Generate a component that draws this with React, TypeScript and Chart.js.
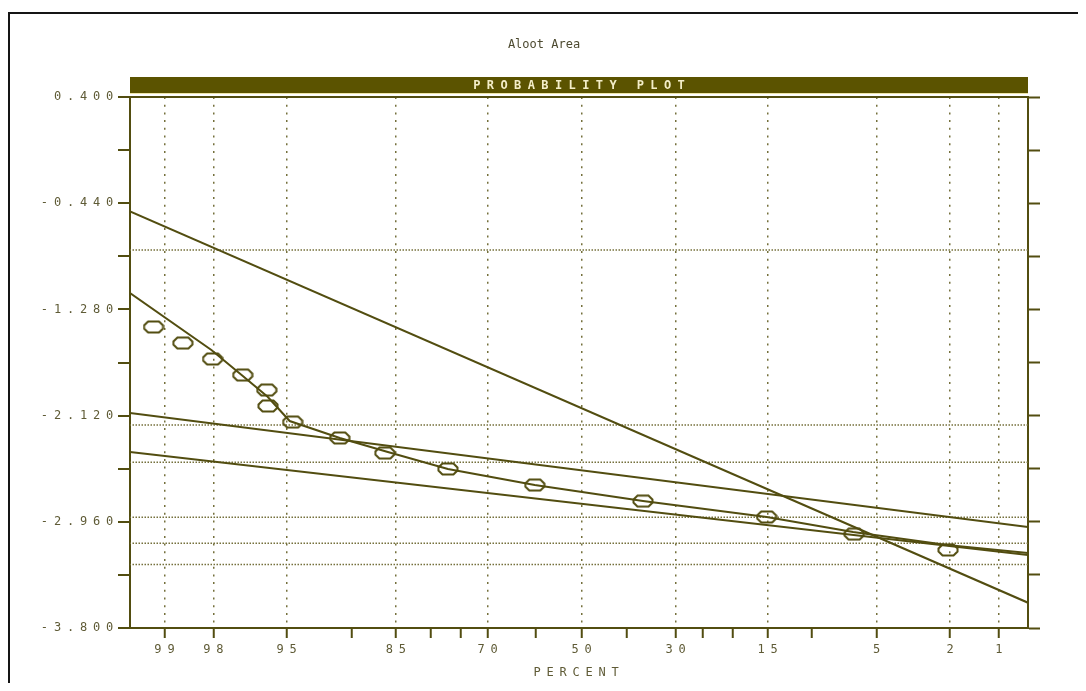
import { useEffect, useRef } from 'react';
import { Chart, registerables } from 'chart.js';

Chart.register(...registerables);

// ---- text ----
const chartTitle = 'Aloot Area';
const bannerText = 'PROBABILITY PLOT';
const xAxisTitle = 'PERCENT';

// ---- axes ----
const axisPercentRange = [99.41, 0.64]; // left edge, right edge
const valueRange = [-3.8, 0.4];
const percentTicks = [99, 98, 95, 90, 85, 80, 75, 70, 60, 50, 40, 30, 25, 20, 15, 10, 5, 2, 1];
const percentLabels = [99, 98, 95, 85, 70, 50, 30, 15, 5, 2, 1];
const valueTicks = [0.4, -0.02, -0.44, -0.86, -1.28, -1.7, -2.12, -2.54, -2.96, -3.38, -3.8];
const valueLabels = [0.4, -0.44, -1.28, -2.12, -2.96, -3.8];

// ---- observations ----
const samplePercents = [99.15, 98.69, 98.02, 97.06, 96.04, 95.98, 94.64, 91.12, 86.37, 77.2, 60.3, 36.6, 15.1, 6.43, 2.05];
const sampleValues = [-1.419, -1.546, -1.672, -1.799, -1.918, -2.044, -2.171, -2.297, -2.416, -2.542, -2.669, -2.796, -2.922, -3.057, -3.183];

// ---- fitted curve through the observations ----
const fitCurvePercents = [99.41, 98.05, 97.1, 96.0, 94.82, 91.12, 86.0, 77.2, 60.3, 36.6, 15.1, 6.5, 2.08, 0.64];
const fitCurveValues = [-1.15, -1.601, -1.799, -1.971, -2.163, -2.297, -2.408, -2.542, -2.669, -2.795, -2.922, -3.041, -3.144, -3.207];

// ---- straight population lines ----
const steepLinePercents = [99.41, 0.64];
const steepLineValues = [-0.505, -3.6];
const upperLinePercents = [99.41, 0.64];
const upperLineValues = [-2.1, -3.001];
const lowerLinePercents = [99.41, 0.64];
const lowerLineValues = [-2.408, -3.223];

// ---- horizontal reference levels ----
const referenceLevels = [-0.81, -2.194, -2.489, -2.924, -3.13, -3.297];

// ---- style ----
const INK = '#524d10';
const TEXT = '#5f5b36';
const DOT = '#75703c';
const BANNER = '#5b5300';
const BANNER_TEXT = '#f4eec8';
const MONO = "'DejaVu Sans Mono', monospace";
const FONT_SIZE = 12;
const SPACING = 5.8;

// inverse standard normal CDF (Acklam)
function probit(p: number): number {
  const a = [-39.69683028665376, 220.9460984245205, -275.9285104469687, 138.357751867269, -30.66479806614716, 2.506628277459239];
  const b = [-54.47609879822406, 161.5858368580409, -155.6989798598866, 66.80131188771972, -13.28068155288572];
  const c = [-0.007784894002430293, -0.3223964580411365, -2.400758277161838, -2.549732539343734, 4.374664141464968, 2.938163982698783];
  const d = [0.007784695709041462, 0.3224671290700398, 2.445134137142996, 3.754408661907416];
  const pl = 0.02425;
  if (p < pl) {
    const q = Math.sqrt(-2 * Math.log(p));
    return (((((c[0] * q + c[1]) * q + c[2]) * q + c[3]) * q + c[4]) * q + c[5]) / ((((d[0] * q + d[1]) * q + d[2]) * q + d[3]) * q + 1);
  }
  if (p > 1 - pl) {
    const q = Math.sqrt(-2 * Math.log(1 - p));
    return -(((((c[0] * q + c[1]) * q + c[2]) * q + c[3]) * q + c[4]) * q + c[5]) / ((((d[0] * q + d[1]) * q + d[2]) * q + d[3]) * q + 1);
  }
  const q = p - 0.5;
  const r = q * q;
  return ((((((a[0] * r + a[1]) * r + a[2]) * r + a[3]) * r + a[4]) * r + a[5]) * q) / (((((b[0] * r + b[1]) * r + b[2]) * r + b[3]) * r + b[4]) * r + 1);
}

const zOf = (pct: number) => probit(pct / 100);
const near = (v: number, list: number[]) => list.some((t) => Math.abs(t - v) < 1e-6);
const labeledZ = percentLabels.map(zOf);

const toPoints = (pcts: number[], vals: number[]) => pcts.map((p, i) => ({ x: zOf(p), y: vals[i] }));

function makeMarker(): HTMLCanvasElement {
  const c = document.createElement('canvas');
  c.width = 22;
  c.height = 14;
  const g = c.getContext('2d')!;
  g.strokeStyle = INK;
  g.lineWidth = 2;
  const x0 = 1.5, y0 = 1.5, w = 19, h = 11, k = 4;
  g.beginPath();
  g.moveTo(x0 + k, y0);
  g.lineTo(x0 + w - k, y0);
  g.lineTo(x0 + w, y0 + k);
  g.lineTo(x0 + w, y0 + h - k);
  g.lineTo(x0 + w - k, y0 + h);
  g.lineTo(x0 + k, y0 + h);
  g.lineTo(x0, y0 + h - k);
  g.lineTo(x0, y0 + k);
  g.closePath();
  g.stroke();
  return c;
}

// title, banner and the spaced-out lettering of the axis text
const plotDecor = {
  id: 'plotDecor',
  beforeUpdate(chart: any) {
    chart.ctx.letterSpacing = SPACING + 'px';
  },
  beforeDraw(chart: any) {
    chart.ctx.letterSpacing = SPACING + 'px';
  },
  afterDraw(chart: any) {
    const { ctx, chartArea } = chart;
    const { left, right, top } = chartArea;
    ctx.save();
    ctx.fillStyle = BANNER;
    ctx.fillRect(left, top - 20, right - left, 16);
    ctx.strokeStyle = '#efe6a8';
    ctx.lineWidth = 1;
    ctx.beginPath();
    ctx.moveTo(left, top - 3.5);
    ctx.lineTo(right, top - 3.5);
    ctx.stroke();
    ctx.font = `bold 12px ${MONO}`;
    ctx.textAlign = 'center';
    ctx.textBaseline = 'middle';
    ctx.fillStyle = BANNER_TEXT;
    ctx.letterSpacing = '6.4px';
    ctx.fillText(bannerText, (left + right) / 2 + 3.2, top - 11.5);
    ctx.letterSpacing = '0px';
    ctx.font = `12px ${MONO}`;
    ctx.fillStyle = '#4d4a30';
    ctx.fillText(chartTitle, chart.width / 2 - 4, top - 52);
    ctx.restore();
  },
};

export default function App() {
  const ref = useRef<HTMLCanvasElement>(null);

  useEffect(() => {
    const marker = makeMarker();
    const zMin = zOf(axisPercentRange[1]);
    const zMax = zOf(axisPercentRange[0]);
    const lineDs = (pcts: number[], vals: number[]) => ({
      data: toPoints(pcts, vals),
      showLine: true,
      borderColor: INK,
      borderWidth: 2,
      pointRadius: 0,
      tension: 0,
    });
    const refDs = referenceLevels.map((v) => ({
      data: [
        { x: zMin, y: v },
        { x: zMax, y: v },
      ],
      showLine: true,
      borderColor: DOT,
      borderWidth: 1.5,
      borderDash: [1.5, 1.5],
      pointRadius: 0,
    }));
    const yTickBuild = (s: any) => {
      s.ticks = [...valueTicks].sort((a, b) => a - b).map((v) => ({ value: v }));
    };
    const tickFont = { family: MONO, size: FONT_SIZE };

    const chart = new Chart(ref.current!, {
      type: 'scatter',
      data: {
        datasets: [
          {
            data: toPoints(samplePercents, sampleValues),
            pointStyle: marker,
            pointRadius: 6,
            showLine: false,
          },
          lineDs(fitCurvePercents, fitCurveValues),
          lineDs(steepLinePercents, steepLineValues),
          lineDs(upperLinePercents, upperLineValues),
          lineDs(lowerLinePercents, lowerLineValues),
          ...refDs,
        ] as any,
      },
      options: {
        responsive: false,
        animation: false,
        devicePixelRatio: 1,
        layout: { padding: { top: 83, left: 0, right: 0, bottom: 0 } },
        plugins: { legend: { display: false }, tooltip: { enabled: false }, title: { display: false } },
        scales: {
          x: {
            type: 'linear',
            position: 'bottom',
            reverse: true,
            min: zMin,
            max: zMax,
            afterBuildTicks: (s: any) => {
              s.ticks = percentTicks.map((p) => ({ value: zOf(p) })).sort((a, b) => a.value - b.value);
            },
            afterFit: (s: any) => {
              s.height = 55;
            },
            ticks: {
              autoSkip: false,
              maxRotation: 0,
              minRotation: 0,
              padding: 5,
              labelOffset: 3,
              color: TEXT,
              font: tickFont,
              callback: (v: any) => {
                const i = labeledZ.findIndex((z) => Math.abs(z - v) < 1e-9);
                return i >= 0 ? String(percentLabels[i]) : '';
              },
            },
            grid: {
              color: (c: any) => (c.tick && near(c.tick.value, labeledZ) ? DOT : 'rgba(0,0,0,0)'),
              lineWidth: 1.5,
              tickLength: 10,
              tickColor: INK,
              tickWidth: 2,
            },
            border: { display: true, color: INK, width: 2, dash: [2, 5.7] },
            title: {
              display: true,
              text: xAxisTitle,
              color: TEXT,
              font: tickFont,
              padding: { top: 0, bottom: 3 },
            },
          },
          y: {
            type: 'linear',
            position: 'left',
            min: valueRange[0],
            max: valueRange[1],
            afterBuildTicks: yTickBuild,
            afterFit: (s: any) => {
              s.width = 120;
            },
            ticks: {
              padding: -1,
              color: TEXT,
              font: tickFont,
              callback: (v: any) => (near(v, valueLabels) ? Number(v).toFixed(3) : ''),
            },
            grid: {
              color: (c: any) => (c.tick && Math.abs(c.tick.value - valueRange[1]) < 1e-9 ? INK : 'rgba(0,0,0,0)'),
              lineWidth: 2,
              tickLength: 12,
              tickColor: INK,
              tickWidth: 2,
            },
            border: { display: true, color: INK, width: 2 },
          },
          y2: {
            type: 'linear',
            position: 'right',
            min: valueRange[0],
            max: valueRange[1],
            afterBuildTicks: yTickBuild,
            afterFit: (s: any) => {
              s.width = 58;
            },
            ticks: { callback: () => '' },
            grid: { drawOnChartArea: false, color: INK, tickLength: 12, tickColor: INK, tickWidth: 2 },
            border: { display: true, color: INK, width: 2 },
          },
        },
      } as any,
      plugins: [plotDecor],
    });
    return () => chart.destroy();
  }, []);

  return (
    <div style={{ paddingTop: 4 }}>
      <div
        style={{
          borderTop: '2px solid #151515',
          borderLeft: '2px solid #151515',
          width: 1076,
          height: 669,
        }}
      >
        <canvas ref={ref} width={1076} height={669} style={{ display: 'block', width: 1076, height: 669 }} />
      </div>
    </div>
  );
}
